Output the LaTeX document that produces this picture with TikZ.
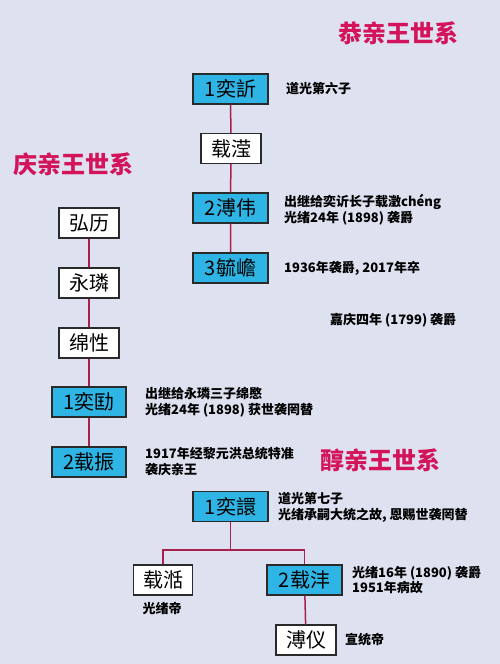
\documentclass[tikz,border=0pt]{standalone}
\usepackage{fontspec}
\setmainfont{Noto Sans CJK SC}
\definecolor{bg}{HTML}{DDE1F0}
\definecolor{cy}{HTML}{2FB5E5}
\definecolor{ln}{HTML}{A8204E}
\definecolor{tt}{HTML}{D3145A}
\definecolor{bd}{HTML}{2A2A2A}
\tikzset{
  box/.style={draw=bd, line width=1.3pt, minimum height=30pt, inner sep=0pt, font=\fontsize{20}{20}\selectfont},
  cbox/.style={box, fill=cy, minimum width=75pt},
  wbox/.style={box, fill=white, minimum width=60pt},
  note/.style={anchor=west, inner sep=0pt, align=left, font=\bfseries\fontsize{13}{16}\selectfont},
  ttl/.style={inner sep=0pt, text=tt, font=\bfseries\fontsize{24}{24}\selectfont},
  conn/.style={draw=ln, line width=1.5pt}
}
\begin{document}
\begin{tikzpicture}[x=1pt,y=-1pt]
\fill[bg] (0,0) rectangle (500,664);
\useasboundingbox (0,0) rectangle (500,664);
% titles
\node[ttl] (t1) at (398,33) {恭亲王世系};
\node[ttl] (t2) at (73,164) {庆亲王世系};
\node[ttl] (t3) at (380,460) {醇亲王世系};
% Gong
\node[cbox] (g1) at (230.5,89) {1奕訢};
\node[wbox] (g2) at (231,148.5) {载滢};
\node[cbox] (g3) at (230.5,208) {2溥伟};
\node[cbox] (g4) at (230.5,268) {3毓嶦};
\draw[conn] (g1) -- (g2) (g2) -- (g3) (g3) -- (g4);
\node[note] (n1) at (286,89) {道光第六子};
\node[note] (n2) at (284,210) {出继给奕䜣长子载澂chéng\\光绪24年 (1898) 袭爵};
\node[note] (n3) at (284,268) {1936年袭爵, 2017年卒};
\node[note] (n4) at (330,320) {嘉庆四年 (1799) 袭爵};
% Qing
\node[wbox] (q1) at (89,223) {弘历};
\node[wbox] (q2) at (89,283) {永璘};
\node[wbox] (q3) at (89,343) {绵性};
\node[cbox, minimum width=74pt] (q4) at (89,402) {1奕劻};
\node[cbox, minimum width=74pt] (q5) at (89,462) {2载振};
\draw[conn] (q1) -- (q2) (q2) -- (q3) (q3) -- (q4) (q4) -- (q5);
\node[note] (n5) at (145,402) {出继给永璘三子绵愍\\光绪24年 (1898) 获世袭罔替};
\node[note] (n6) at (145,462) {1917年经黎元洪总统特准\\袭庆亲王};
% Chun
\node[cbox] (c1) at (230.5,506.5) {1奕譞};
\node[wbox, minimum width=59pt] (c2) at (163,580) {载湉};
\node[cbox] (c3) at (304.5,580) {2载沣};
\node[wbox] (c4) at (306,640) {溥仪};
\coordinate (cj) at (230.5,550);
\draw[conn] (c1) -- (cj);
\draw[conn] (c2.north) |- (cj) -| (c3.north);
\draw[conn] (c3) -- (c4);
\node[note] (n7) at (278,507) {道光第七子\\光绪承嗣大统之故, 恩赐世袭罔替};
\node[note, anchor=center] (n8) at (162,608) {光绪帝};
\node[note] (n9) at (352,580) {光绪16年 (1890) 袭爵\\1951年病故};
\node[note] (n10) at (345,640) {宣统帝};
\end{tikzpicture}
\end{document}
